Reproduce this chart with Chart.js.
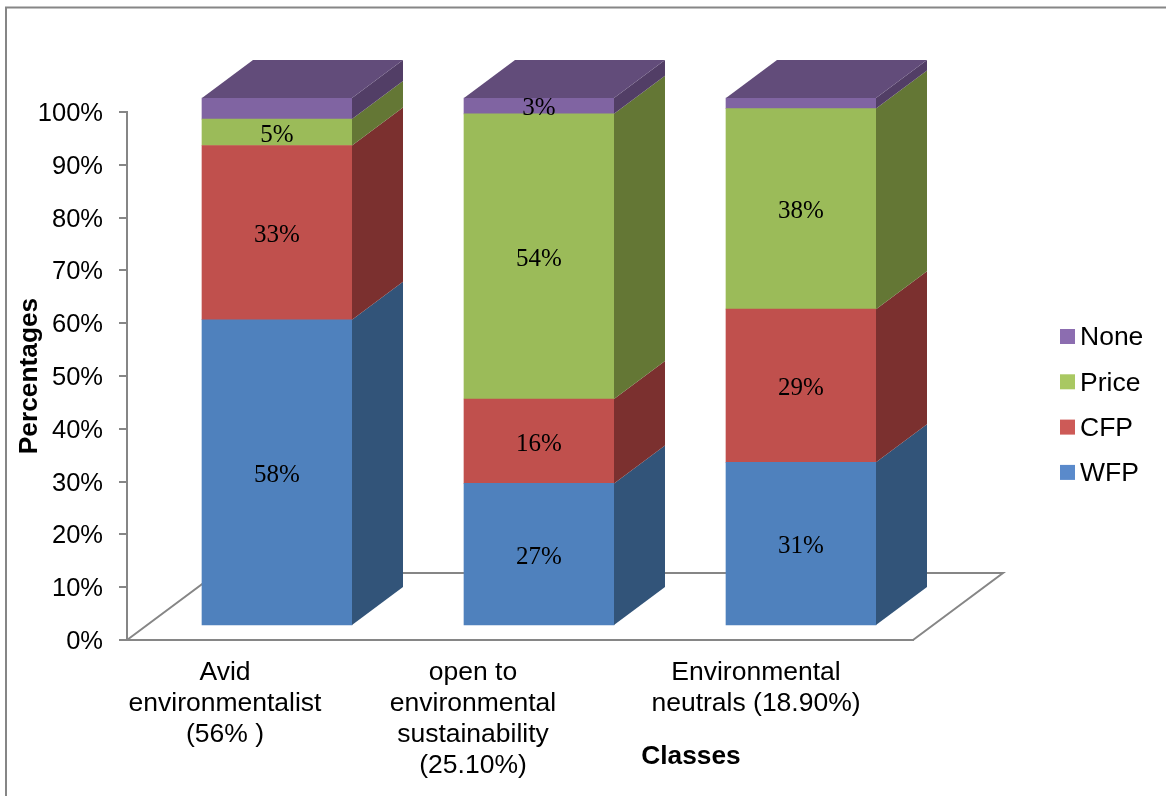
<!DOCTYPE html>
<html lang="en">

<head>
    <meta charset="UTF-8">
    <title>Classes</title>
    <script src="https://cdn.jsdelivr.net/npm/chart.js"></script>
    <style>
        body { margin: 0; background: #fff; }
        canvas { display: block; }
    </style>
</head>

<body>
    <canvas id="myChart" width="1166" height="796"></canvas>

    <script>
        const categories = [
            ['Avid', 'environmentalist', '(56% )'],
            ['open to', 'environmental', 'sustainability', '(25.10%)'],
            ['Environmental', 'neutrals (18.90%)']
        ];
        const wfp = [58, 27, 31];
        const cfp = [33, 16, 29];
        const price = [5, 54, 38];
        const none = [4, 3, 2];
        // the None slice only carries a printed label on the middle bar
        const noneLabels = ['', '3%', ''];

        const seriesNames = ['WFP', 'CFP', 'Price', 'None'];
        const frontColors = ['#4f81bd', '#c0504d', '#9bbb59', '#8064a2'];
        const sideColors = ['#325479', '#7b302f', '#647735', '#523e66'];
        const topColor = '#624c7a';
        const legendColors = ['#5a8acb', '#cd5a57', '#a9c862', '#8c6db0'];

        const axisColor = '#868686';
        const sans = '"Liberation Sans", Arial, sans-serif';
        const serif = '"Liberation Serif", "Times New Roman", serif';

        // fake 3D: floor depth, where the bars sit on it and how deep they are
        const floorDepth = { x: 90, y: -67 };
        const barShift = { x: 19, y: -14 };
        const barDepth = { x: 51, y: -38 };

        // category labels are hand placed under the axis, not under the bars
        const labelShift = [-33, -47, -26];

        function poly(ctx, points, color) {
            ctx.fillStyle = color;
            ctx.beginPath();
            points.forEach((p, i) => i ? ctx.lineTo(p[0], p[1]) : ctx.moveTo(p[0], p[1]));
            ctx.closePath();
            ctx.fill();
        }

        const fake3d = {
            id: 'fake3d',
            beforeDraw(chart) {
                // outer frame, runs off the right and bottom edges
                const ctx = chart.ctx;
                ctx.save();
                ctx.strokeStyle = axisColor;
                ctx.lineWidth = 2;
                ctx.beginPath();
                ctx.moveTo(6, 796);
                ctx.lineTo(6, 7.5);
                ctx.lineTo(1166, 7.5);
                ctx.stroke();
                ctx.restore();
            },
            beforeDatasetsDraw(chart) {
                const ctx = chart.ctx;
                const { left, right, bottom } = chart.chartArea;
                ctx.save();
                ctx.strokeStyle = axisColor;
                ctx.lineWidth = 2;
                ctx.beginPath();
                ctx.moveTo(left, bottom);
                ctx.lineTo(left + floorDepth.x, bottom + floorDepth.y);
                ctx.lineTo(right + floorDepth.x, bottom + floorDepth.y);
                ctx.lineTo(right, bottom);
                ctx.stroke();
                ctx.restore();

                // bars stand a bit behind the front edge of the floor
                ctx.save();
                ctx.translate(barShift.x, barShift.y);
            },
            afterDatasetsDraw(chart) {
                const ctx = chart.ctx;
                const dx = barDepth.x, dy = barDepth.y;

                chart.data.datasets.forEach((ds, i) => {
                    chart.getDatasetMeta(i).data.forEach(bar => {
                        const l = bar.x - bar.width / 2;
                        const r = bar.x + bar.width / 2;
                        poly(ctx, [[r, bar.y], [r + dx, bar.y + dy], [r + dx, bar.base + dy], [r, bar.base]], sideColors[i]);
                        if (i === chart.data.datasets.length - 1) {
                            poly(ctx, [[l, bar.y], [l + dx, bar.y + dy], [r + dx, bar.y + dy], [r, bar.y]], topColor);
                        }
                    });
                });

                // value labels
                ctx.fillStyle = '#000';
                ctx.font = '25px ' + serif;
                ctx.textAlign = 'center';
                ctx.textBaseline = 'middle';
                chart.data.datasets.forEach((ds, i) => {
                    chart.getDatasetMeta(i).data.forEach((bar, j) => {
                        const text = ds.label === 'None' ? noneLabels[j] : ds.data[j] + '%';
                        if (text) ctx.fillText(text, bar.x, (bar.y + bar.base) / 2 + 3);
                    });
                });
                ctx.restore();
            },
            afterDraw(chart) {
                const ctx = chart.ctx;
                const xScale = chart.scales.x;
                ctx.save();
                ctx.fillStyle = '#000';
                ctx.textAlign = 'center';
                ctx.textBaseline = 'middle';

                // category labels
                ctx.font = '26.5px ' + sans;
                categories.forEach((lines, i) => {
                    const x = xScale.getPixelForValue(i) + labelShift[i];
                    lines.forEach((line, n) => ctx.fillText(line, x, 673 + n * 31));
                });

                ctx.font = 'bold 26.3px ' + sans;
                ctx.fillText('Classes', 691, 757);

                // legend, top entry is the top of the stack
                ctx.font = '26.5px ' + sans;
                ctx.textAlign = 'left';
                seriesNames.slice().reverse().forEach((name, i) => {
                    const y = 336.5 + i * 45.3;
                    ctx.fillStyle = legendColors[3 - i];
                    ctx.fillRect(1060, y - 7.5, 15, 15);
                    ctx.fillStyle = '#000';
                    ctx.fillText(name, 1080, y + 1.5);
                });
                ctx.restore();
            }
        };

        new Chart(document.getElementById('myChart'), {
            type: 'bar',
            data: {
                labels: categories,
                datasets: [wfp, cfp, price, none].map((values, i) => ({
                    label: seriesNames[i],
                    data: values,
                    backgroundColor: frontColors[i],
                    barThickness: 150,
                    clip: false
                }))
            },
            options: {
                responsive: false,
                animation: false,
                layout: { padding: { top: 112, right: 253, bottom: 156, left: 0 } },
                plugins: {
                    legend: { display: false },
                    tooltip: { enabled: false }
                },
                scales: {
                    x: {
                        stacked: true,
                        afterFit(scale) { scale.height = 0; },
                        grid: { display: false },
                        border: { color: axisColor, width: 2 },
                        ticks: { display: false }
                    },
                    y: {
                        stacked: true,
                        min: 0,
                        max: 100,
                        afterFit(scale) { scale.width = 127; },
                        border: { color: axisColor, width: 2 },
                        grid: { drawOnChartArea: false, color: axisColor, lineWidth: 2, tickLength: 8 },
                        ticks: {
                            stepSize: 10,
                            padding: 16,
                            labelOffset: 2,
                            color: '#000',
                            font: { family: sans, size: 25.5 },
                            callback: v => v + '%'
                        },
                        title: {
                            display: true,
                            text: 'Percentages',
                            color: '#000',
                            padding: { top: 14, bottom: 0 },
                            font: { family: sans, size: 26.3, weight: 'bold' }
                        }
                    }
                }
            },
            plugins: [fake3d]
        });
    </script>
</body>

</html>
